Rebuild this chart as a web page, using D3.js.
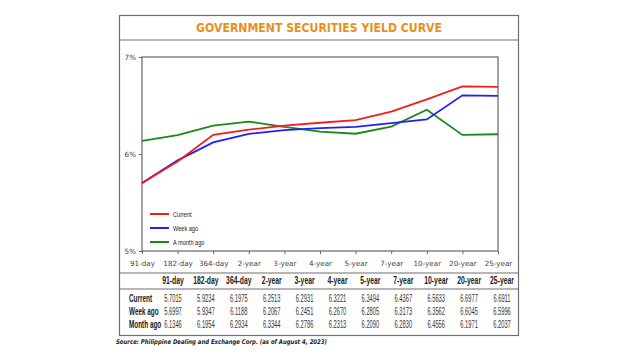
<!DOCTYPE html>
<html>
<head>
<meta charset="utf-8">
<script src="https://cdn.jsdelivr.net/npm/d3@7"></script>
<style>
  html, body { margin: 0; padding: 0; background: #fff; }
  svg { display: block; }
  .narrow { font-family: "Liberation Sans", Arial, sans-serif; }
</style>
</head>
<body>
<div id="chart"></div>
<script>
var tenors = ["91-day", "182-day", "364-day", "2-year", "3-year", "4-year", "5-year", "7-year", "10-year", "20-year", "25-year"];
var current = [5.7015, 5.9234, 6.1975, 6.2513, 6.2931, 6.3221, 6.3494, 6.4367, 6.5633, 6.6977, 6.6911];
var weekAgo = [5.6997, 5.9347, 6.1188, 6.2067, 6.2451, 6.2670, 6.2805, 6.3173, 6.3562, 6.6045, 6.5996];
var monthAgo = [6.1346, 6.1954, 6.2934, 6.3344, 6.2786, 6.2313, 6.2090, 6.2830, 6.4556, 6.1971, 6.2037];
var yTicks = [5, 6, 7];

var series = [
	{ name: "Current", row: "Current", values: current, color: "#f21d1d" },
	{ name: "Week ago", row: "Week ago", values: weekAgo, color: "#1f1fff" },
	{ name: "A month ago", row: "Month ago", values: monthAgo, color: "#178a17" }
];

var W = 640, H = 360;
var box = { left: 119.5, right: 518.5, top: 15.5, bottom: 335.5 };
var plot = { left: 142, right: 498, top: 57, bottom: 251 };

// condensed text: squeeze horizontally around its own anchor
function squeeze(sel, px, py, sx) {
	sel.attr("x", 0).attr("y", 0)
		.attr("transform", (d, i) => `translate(${px(d, i)},${py(d, i)}) scale(${sx},1)`);
}

var svg = d3.select("#chart").append("svg").attr("width", W).attr("height", H);

// outer frame
svg.append("rect")
	.attr("x", box.left).attr("y", box.top)
	.attr("width", box.right - box.left).attr("height", box.bottom - box.top)
	.attr("fill", "none").attr("stroke", "#6e6e6e").attr("stroke-width", 1.2);
svg.append("line")
	.attr("x1", box.left).attr("x2", box.right).attr("y1", 40).attr("y2", 40)
	.attr("stroke", "#6e6e6e").attr("stroke-width", 1.2);

// title
svg.append("text")
	.attr("x", 196).attr("y", 31.5)
	.attr("textLength", 246).attr("lengthAdjust", "spacingAndGlyphs")
	.style("font-family", "'DejaVu Sans', sans-serif")
	.style("font-weight", "bold")
	.style("font-size", "12.5px")
	.attr("fill", "#e8901c")
	.text("GOVERNMENT SECURITIES YIELD CURVE");

// scales
var x = d3.scalePoint().domain(tenors).range([plot.left, plot.right]);
var y = d3.scaleLinear().domain([5, 7]).range([plot.bottom, plot.top]);

// plot frame
svg.append("rect")
	.attr("x", plot.left).attr("y", plot.top)
	.attr("width", plot.right - plot.left).attr("height", plot.bottom - plot.top)
	.attr("fill", "none").attr("stroke", "#666").attr("stroke-width", 1.2);

// axes
var yAxis = svg.append("g")
	.attr("transform", `translate(${plot.left},0)`)
	.call(d3.axisLeft(y).tickValues(yTicks).tickFormat(d => d + "%").tickSize(3).tickPadding(3));
var xAxis = svg.append("g")
	.attr("transform", `translate(0,${plot.bottom})`)
	.call(d3.axisBottom(x).tickSize(3).tickPadding(7));
[xAxis, yAxis].forEach(g => {
	g.select(".domain").remove();
	g.selectAll("line").attr("stroke", "#666");
	g.selectAll("text")
		.style("font-family", "'DejaVu Sans', sans-serif")
		.style("font-size", "7.2px")
		.attr("fill", "#444");
});

// lines
var line = d3.line().x((d, i) => x(tenors[i])).y(d => y(d));
svg.selectAll(".series")
	.data(series.slice().reverse())
	.enter().append("path")
	.attr("class", "series")
	.attr("d", d => line(d.values))
	.attr("fill", "none")
	.attr("stroke", d => d.color)
	.attr("stroke-width", 1.8);

// legend
var legend = svg.selectAll(".legend")
	.data(series)
	.enter().append("g")
	.attr("transform", (d, i) => `translate(150,${214 + i * 14})`);
legend.append("line")
	.attr("x1", 0).attr("x2", 19)
	.attr("stroke", d => d.color).attr("stroke-width", 2);
legend.append("text")
	.attr("class", "narrow")
	.style("font-size", "7px")
	.attr("fill", "#222")
	.text(d => d.name)
	.call(squeeze, () => 23, () => 2.5, 0.8);

// table
svg.append("line")
	.attr("x1", box.left).attr("x2", box.right).attr("y1", 273).attr("y2", 273)
	.attr("stroke", "#6e6e6e").attr("stroke-width", 1.2);
svg.append("line")
	.attr("x1", box.left).attr("x2", box.right).attr("y1", 289).attr("y2", 289)
	.attr("stroke", "#6e6e6e").attr("stroke-width", 1.2);

var col = d3.scalePoint().domain(tenors).range([173, 502]);
var fmt = d3.format(".4f");

svg.selectAll(".head")
	.data(tenors)
	.enter().append("text")
	.attr("class", "narrow")
	.attr("text-anchor", "middle")
	.style("font-size", "11px")
	.style("font-weight", "bold")
	.attr("fill", "#222")
	.text(d => d)
	.call(squeeze, d => col(d), () => 283.5, 0.62);

var rows = svg.selectAll(".row")
	.data(series)
	.enter().append("g")
	.attr("transform", (d, i) => `translate(0,${301.5 + i * 13.3})`);
rows.append("text")
	.attr("class", "narrow")
	.style("font-size", "11px")
	.style("font-weight", "bold")
	.attr("fill", "#222")
	.text(d => d.row)
	.call(squeeze, () => 129, () => 0, 0.58);
rows.selectAll(".val")
	.data(d => d.values)
	.enter().append("text")
	.attr("class", "narrow")
	.attr("text-anchor", "middle")
	.style("font-size", "11.5px")
	.attr("fill", "#333")
	.text(d => fmt(d))
	.call(squeeze, (d, i) => col(tenors[i]), () => 0, 0.5);

// source
svg.append("text")
	.attr("x", 116).attr("y", 344)
	.attr("textLength", 211).attr("lengthAdjust", "spacingAndGlyphs")
	.style("font-family", "'DejaVu Sans', sans-serif")
	.style("font-size", "6.5px")
	.style("font-weight", "bold")
	.style("font-style", "italic")
	.attr("fill", "#222")
	.text("Source: Philippine Dealing and Exchange Corp. (as of August 4, 2023)");
</script>
</body>
</html>
